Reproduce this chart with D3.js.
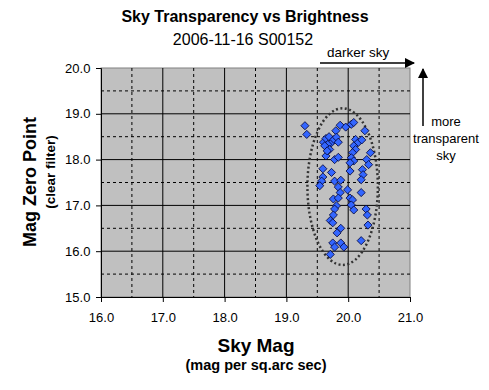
<!DOCTYPE html>
<html>
<head>
<meta charset="utf-8">
<script src="https://cdn.jsdelivr.net/npm/d3@7"></script>
<style>
  body { margin: 0; background: #fff; }
  text { font-family: "Liberation Sans", Arial, sans-serif; }
</style>
</head>
<body>
<div class="canvas"></div>
<script>
// data
const skyMag = [19.30, 19.33, 19.87, 19.96, 20.05, 20.09, 19.80, 20.27, 19.60, 19.64,
  19.69, 19.73, 19.77, 19.81, 19.84, 19.67, 19.70, 19.64, 19.78, 19.84,
  20.12, 20.16, 20.22, 20.09, 20.12, 20.07, 20.05, 20.09, 20.03, 20.36,
  20.30, 20.33, 20.23, 20.24, 20.21, 19.59, 19.73, 20.03, 19.59, 19.57,
  19.54, 19.78, 19.88, 19.84, 19.87, 19.99, 19.76, 19.84, 19.81, 19.78,
  20.03, 20.07, 20.05, 20.09, 20.21, 20.29, 20.31, 19.76, 19.71, 19.75,
  20.32, 19.88, 19.82, 20.21, 19.75, 19.88, 19.78, 19.93, 19.71, 19.62,
  19.66];
const zeroPoint = [18.74, 18.55, 18.75, 18.71, 18.77, 18.81, 18.63, 18.63, 18.38, 18.46,
  18.50, 18.37, 18.44, 18.49, 18.38, 18.33, 18.22, 18.08, 18.00, 18.05,
  18.44, 18.37, 18.43, 18.30, 18.22, 18.15, 18.04, 17.97, 17.93, 18.15,
  18.00, 17.89, 17.78, 17.67, 17.56, 17.80, 17.72, 17.75, 17.62, 17.53,
  17.43, 17.53, 17.55, 17.40, 17.28, 17.34, 17.14, 17.16, 16.99, 16.92,
  17.16, 17.12, 17.01, 16.90, 17.28, 16.92, 16.79, 16.79, 16.67, 16.62,
  16.57, 16.50, 16.40, 16.23, 16.18, 16.18, 16.09, 16.09, 15.93, 18.30,
  18.19];
const xTicks = [16, 17, 18, 19, 20, 21];
const yTicks = [15, 16, 17, 18, 19, 20];
const xHalf = [16.5, 17.5, 18.5, 19.5, 20.5];
const yHalf = [15.5, 16.5, 17.5, 18.5, 19.5];
// dotted ellipse around the cloud: center x, center y, radius x, radius y
const ring = { cx: 19.91, cy: 17.41, rx: 0.57, ry: 1.71 };

const points = skyMag.map((d, i) => ({ sky: d, zp: zeroPoint[i] }));

//=============== set up ===============//
const svg = d3.select('.canvas')
    .append('svg')
    .attr('width', 489)
    .attr('height', 390);

const margin = { top: 68, right: 79, bottom: 93, left: 101 };
const graphWidth = 489 - margin.left - margin.right;
const graphHeight = 390 - margin.top - margin.bottom;

const graph = svg.append('g')
    .attr('transform', `translate(${margin.left},${margin.top})`);

const x = d3.scaleLinear().domain([16, 21]).range([0, graphWidth]);
const y = d3.scaleLinear().domain([15, 20]).range([graphHeight, 0]);

graph.append('rect')
    .attr('width', graphWidth)
    .attr('height', graphHeight)
    .attr('fill', '#c0c0c0')
    .attr('stroke', '#808080');

// half-unit dashed grid
graph.selectAll('.vhalf').data(xHalf).enter().append('line')
    .attr('x1', d => x(d)).attr('x2', d => x(d))
    .attr('y1', 0).attr('y2', graphHeight)
    .attr('stroke', '#000').attr('stroke-dasharray', '3,3');
graph.selectAll('.hhalf').data(yHalf).enter().append('line')
    .attr('y1', d => y(d)).attr('y2', d => y(d))
    .attr('x1', 0).attr('x2', graphWidth)
    .attr('stroke', '#000').attr('stroke-dasharray', '3,3');

// solid major grid
graph.selectAll('.vmaj').data(xTicks.slice(1, -1)).enter().append('line')
    .attr('x1', d => x(d)).attr('x2', d => x(d))
    .attr('y1', 0).attr('y2', graphHeight)
    .attr('stroke', '#000');
graph.selectAll('.hmaj').data(yTicks.slice(1, -1)).enter().append('line')
    .attr('y1', d => y(d)).attr('y2', d => y(d))
    .attr('x1', 0).attr('x2', graphWidth)
    .attr('stroke', '#000');

// axes
const xAxis = d3.axisBottom(x).tickValues(xTicks).tickSize(5).tickFormat(d3.format('.1f'));
const yAxis = d3.axisLeft(y).tickValues(yTicks).tickSize(5).tickFormat(d3.format('.1f'));

const xAxisGroup = graph.append('g')
    .attr('transform', `translate(0,${graphHeight})`)
    .call(xAxis);
const yAxisGroup = graph.append('g').call(yAxis);

[xAxisGroup, yAxisGroup].forEach(g => {
    g.select('.domain').attr('stroke', '#000');
    g.selectAll('text')
        .attr('font-size', 13)
        .attr('fill', '#000')
        .style('font-family', '"Liberation Sans", Arial, sans-serif');
});
xAxisGroup.selectAll('text').attr('dy', '1.3em');
yAxisGroup.selectAll('text').attr('dx', '-0.2em');

// dotted ellipse
graph.append('ellipse')
    .attr('cx', x(ring.cx))
    .attr('cy', y(ring.cy))
    .attr('rx', x(ring.cx + ring.rx) - x(ring.cx))
    .attr('ry', y(ring.cy) - y(ring.cy + ring.ry))
    .attr('fill', 'none')
    .attr('stroke', '#333')
    .attr('stroke-width', 2.5)
    .attr('stroke-dasharray', '2,2.5');

// diamond markers
const diamond = d3.symbol().type(d3.symbolDiamond2).size(42);
graph.selectAll('.pt').data(points).enter().append('path')
    .attr('d', diamond)
    .attr('transform', d => `translate(${x(d.sky)},${y(d.zp)})`)
    .attr('fill', '#3366ff')
    .attr('stroke', '#000033')
    .attr('stroke-width', 0.8);

//=============== titles ===============//
svg.append('text')
    .attr('x', 245).attr('y', 22)
    .attr('text-anchor', 'middle')
    .attr('font-size', 16).attr('font-weight', 'bold')
    .text('Sky Transparency vs Brightness');
svg.append('text')
    .attr('x', 243).attr('y', 45)
    .attr('text-anchor', 'middle')
    .attr('font-size', 16)
    .text('2006-11-16 S00152');

svg.append('text')
    .attr('x', 256).attr('y', 352)
    .attr('text-anchor', 'middle')
    .attr('font-size', 19).attr('font-weight', 'bold')
    .text('Sky Mag');
svg.append('text')
    .attr('x', 256).attr('y', 370)
    .attr('text-anchor', 'middle')
    .attr('font-size', 14.5).attr('font-weight', 'bold')
    .text('(mag per sq.arc sec)');

svg.append('text')
    .attr('transform', 'translate(36,182) rotate(-90)')
    .attr('text-anchor', 'middle')
    .attr('font-size', 18).attr('font-weight', 'bold')
    .text('Mag Zero Point');
svg.append('text')
    .attr('transform', 'translate(55,172) rotate(-90)')
    .attr('text-anchor', 'middle')
    .attr('font-size', 13.5).attr('font-weight', 'bold')
    .text('(clear filter)');

//=============== annotations ===============//
const defs = svg.append('defs');
defs.append('marker')
    .attr('id', 'head')
    .attr('viewBox', '0 0 10 10')
    .attr('refX', 9).attr('refY', 5)
    .attr('markerWidth', 7).attr('markerHeight', 7)
    .attr('orient', 'auto')
    .append('path').attr('d', 'M0,0L10,5L0,10Z').attr('fill', '#000');

svg.append('text')
    .attr('x', 327).attr('y', 57)
    .attr('font-size', 13.5)
    .text('darker sky');
svg.append('line')
    .attr('x1', 320).attr('x2', 414)
    .attr('y1', 63).attr('y2', 63)
    .attr('stroke', '#000').attr('stroke-width', 1.5)
    .attr('marker-end', 'url(#head)');

svg.append('line')
    .attr('x1', 423).attr('x2', 423)
    .attr('y1', 126).attr('y2', 69)
    .attr('stroke', '#000').attr('stroke-width', 1.5)
    .attr('marker-end', 'url(#head)');
['more', 'transparent', 'sky'].forEach((t, i) => {
    svg.append('text')
        .attr('x', 446).attr('y', 126 + i * 17)
        .attr('text-anchor', 'middle')
        .attr('font-size', 13)
        .text(t);
});
</script>
</body>
</html>
